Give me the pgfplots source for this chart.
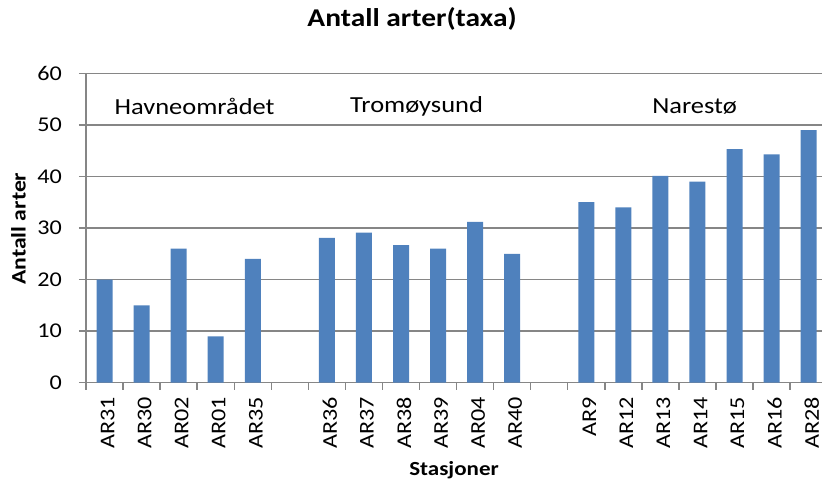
\documentclass[border=0pt]{standalone}
\usepackage{pgfplots}
\pgfplotsset{compat=1.18}
\usepackage{fontspec}
\setmainfont{Carlito}[FakeStretch=1.15]
\definecolor{barblue}{RGB}{79,129,189}
\definecolor{gridgray}{RGB}{134,134,134}
\pgfplotstableread{
x y
0 20
1 15
2 26
3 9
4 24
6 28.1
7 29.1
8 26.7
9 26
10 31.2
11 25
13 35
14 34
15 40.1
16 39
17 45.3
18 44.3
19 49
}\datatable
\begin{document}
\begin{tikzpicture}
\useasboundingbox (-43pt,-50.15pt) rectangle (368pt,191.35pt);
\begin{axis}[
  at={(0,0)}, anchor=south west,
  scale only axis, width=368pt, height=154.7pt,
  xmin=-0.5, xmax=19.36, ymin=0, ymax=60,
  ytick={0,10,...,60},
  ybar, bar width=8pt,
  axis x line=bottom, axis y line=left,
  axis line style={gridgray, line width=0.7pt, -},
  ymajorgrids, major grid style={gridgray, line width=0.7pt},
  tick align=outside,
  major tick length=3.5pt, minor tick length=3.5pt,
  xtick={0,1,2,3,4,6,7,8,9,10,11,13,14,15,16,17,18,19},
  xticklabels={AR31,AR30,AR02,AR01,AR35,AR36,AR37,AR38,AR39,AR04,AR40,AR9,AR12,AR13,AR14,AR15,AR16,AR28},
  major x tick style={draw=none},
  minor xtick={-0.5,0.5,...,19.5},
  minor x tick style={gridgray, line width=0.7pt},
  ytick style={gridgray, line width=0.7pt},
  /pgf/number format/assume math mode=true,
  xticklabel style={rotate=90, anchor=east, yshift=-1.5pt, font=\fontsize{10.5}{12}\selectfont},
  yticklabel style={xshift=-5pt, font=\fontsize{10.5}{12}\selectfont},
  title={Antall arter(taxa)},
  title style={font=\bfseries\fontsize{12.8}{14}\selectfont, at={(axis description cs:0.443,1.137)}, anchor=center},
  xlabel={Stasjoner},
  xlabel style={font=\bfseries\fontsize{10}{12}\selectfont, at={(axis description cs:0.5,-0.282)}, anchor=center},
  ylabel={Antall arter},
  ylabel style={font=\bfseries\fontsize{10.3}{12}\selectfont, at={(axis description cs:-0.0917,0.498)}, anchor=center},
]
\addplot[fill=barblue, draw=none] table[x=x, y=y] {\datatable};
\node[font=\fontsize{11.5}{13}\selectfont] at (axis cs:2.43,53.5) {Havneområdet};
\node[font=\fontsize{11.5}{13}\selectfont] at (axis cs:8.42,53.5) {Tromøysund};
\node[font=\fontsize{11.5}{13}\selectfont] at (axis cs:15.92,53.5) {Narestø};
\end{axis}
\end{tikzpicture}
\end{document}
